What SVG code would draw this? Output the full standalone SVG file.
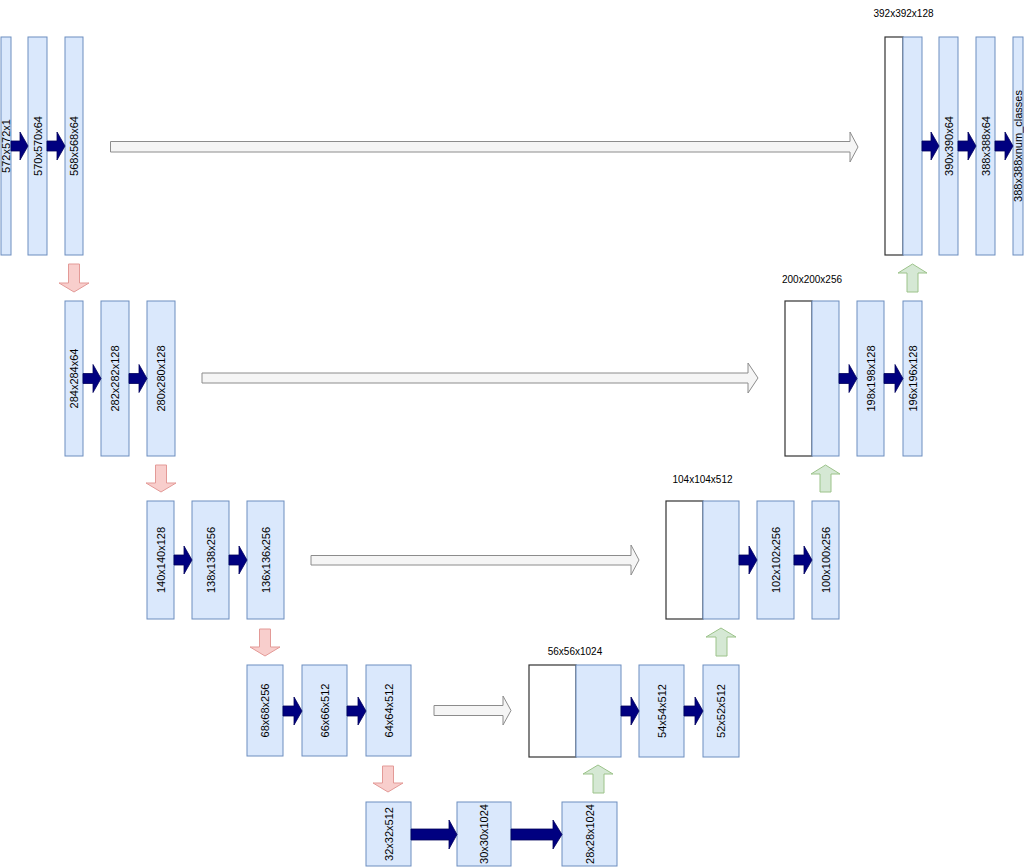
<svg xmlns="http://www.w3.org/2000/svg" width="1024" height="868" viewBox="0 0 1024 868">
<style>
.bar{fill:#dae8fc;stroke:#6c8ebf;stroke-width:1}
.wht{fill:#ffffff;stroke:#333333;stroke-width:1.2}
.lbl{font-family:"Liberation Sans",Arial,sans-serif;font-size:11px;fill:#000;text-anchor:middle;dominant-baseline:central}
.top{font-family:"Liberation Sans",Arial,sans-serif;font-size:10px;fill:#000;text-anchor:middle}
.conv{fill:#000080;stroke:#00005a;stroke-width:0.8}
.skip{fill:#f5f5f5;stroke:#8c8c8c;stroke-width:1}
.down{fill:#f8cecc;stroke:#e39a97;stroke-width:1}
.up{fill:#d5e8d4;stroke:#9cc38a;stroke-width:1}
</style>
<rect width="1024" height="868" fill="#ffffff"/>

<!-- Row 1 -->
<g id="n_572"><rect class="bar" x="1" y="37" width="10" height="218"/><text class="lbl" transform="translate(6,146) rotate(-90)">572x572x1</text></g>
<g id="n_570"><rect class="bar" x="28" y="37" width="19" height="218"/><text class="lbl" transform="translate(37.5,146) rotate(-90)">570x570x64</text></g>
<g id="n_568"><rect class="bar" x="65" y="37" width="18" height="218"/><text class="lbl" transform="translate(74,146) rotate(-90)">568x568x64</text></g>
<g id="n_392"><text class="top" x="903.5" y="17">392x392x128</text><rect class="wht" x="885" y="37" width="18" height="218"/><rect class="bar" x="903" y="37" width="19" height="218"/></g>
<g id="n_390"><rect class="bar" x="939" y="37" width="19" height="218"/><text class="lbl" transform="translate(948.5,146) rotate(-90)">390x390x64</text></g>
<g id="n_388"><rect class="bar" x="976" y="37" width="19" height="218"/><text class="lbl" transform="translate(985.5,146) rotate(-90)">388x388x64</text></g>
<g id="n_out"><rect class="bar" x="1013" y="37" width="10" height="218"/><text class="lbl" transform="translate(1018,146) rotate(-90)">388x388xnum_classes</text></g>

<!-- Row 2 -->
<g id="n_284"><rect class="bar" x="65" y="301" width="18" height="155"/><text class="lbl" transform="translate(74,378.5) rotate(-90)">284x284x64</text></g>
<g id="n_282"><rect class="bar" x="101" y="301" width="28" height="155"/><text class="lbl" transform="translate(115,378.5) rotate(-90)">282x282x128</text></g>
<g id="n_280"><rect class="bar" x="147" y="301" width="28" height="155"/><text class="lbl" transform="translate(161,378.5) rotate(-90)">280x280x128</text></g>
<g id="n_200"><text class="top" x="812" y="283">200x200x256</text><rect class="wht" x="785" y="301" width="27" height="155"/><rect class="bar" x="812" y="301" width="27" height="155"/></g>
<g id="n_198"><rect class="bar" x="857" y="301" width="27" height="155"/><text class="lbl" transform="translate(870.5,378.5) rotate(-90)">198x198x128</text></g>
<g id="n_196"><rect class="bar" x="903" y="301" width="19" height="155"/><text class="lbl" transform="translate(912.5,378.5) rotate(-90)">196x196x128</text></g>

<!-- Row 3 -->
<g id="n_140"><rect class="bar" x="147" y="501" width="27" height="118"/><text class="lbl" transform="translate(160.5,560) rotate(-90)">140x140x128</text></g>
<g id="n_138"><rect class="bar" x="192" y="501" width="37" height="118"/><text class="lbl" transform="translate(210.5,560) rotate(-90)">138x138x256</text></g>
<g id="n_136"><rect class="bar" x="247" y="501" width="37" height="118"/><text class="lbl" transform="translate(265.5,560) rotate(-90)">136x136x256</text></g>
<g id="n_104"><text class="top" x="702.5" y="483">104x104x512</text><rect class="wht" x="666" y="501" width="37" height="118"/><rect class="bar" x="703" y="501" width="36" height="118"/></g>
<g id="n_102"><rect class="bar" x="757" y="501" width="37" height="118"/><text class="lbl" transform="translate(775.5,560) rotate(-90)">102x102x256</text></g>
<g id="n_100"><rect class="bar" x="812" y="501" width="27" height="118"/><text class="lbl" transform="translate(825.5,560) rotate(-90)">100x100x256</text></g>

<!-- Row 4 -->
<g id="n_68"><rect class="bar" x="247" y="665" width="36" height="91"/><text class="lbl" transform="translate(265,710.5) rotate(-90)">68x68x256</text></g>
<g id="n_66"><rect class="bar" x="302" y="665" width="45" height="91"/><text class="lbl" transform="translate(324.5,710.5) rotate(-90)">66x66x512</text></g>
<g id="n_64"><rect class="bar" x="366" y="665" width="45" height="91"/><text class="lbl" transform="translate(388.5,710.5) rotate(-90)">64x64x512</text></g>
<g id="n_56"><text class="top" x="575" y="655">56x56x1024</text><rect class="wht" x="529" y="665" width="47" height="92"/><rect class="bar" x="576" y="665" width="45" height="92"/></g>
<g id="n_54"><rect class="bar" x="639" y="665" width="45" height="92"/><text class="lbl" transform="translate(661.5,711) rotate(-90)">54x54x512</text></g>
<g id="n_52"><rect class="bar" x="703" y="665" width="36" height="92"/><text class="lbl" transform="translate(721,711) rotate(-90)">52x52x512</text></g>

<!-- Row 5 -->
<g id="n_32"><rect class="bar" x="366" y="802" width="45" height="64"/><text class="lbl" transform="translate(388.5,834) rotate(-90)">32x32x512</text></g>
<g id="n_30"><rect class="bar" x="457" y="802" width="54" height="64"/><text class="lbl" transform="translate(484,834) rotate(-90)">30x30x1024</text></g>
<g id="n_28"><rect class="bar" x="562" y="802" width="55" height="64"/><text class="lbl" transform="translate(589.5,834) rotate(-90)">28x28x1024</text></g>

<g id="connectors">
<!-- conv arrows row1 -->
<polygon class="conv" points="11,141 20,141 20,132 28,146 20,160 20,151 11,151"/>
<polygon class="conv" points="47,141 57,141 57,132 65,146 57,160 57,151 47,151"/>
<polygon class="conv" points="922,141 931,141 931,132 939,146 931,160 931,151 922,151"/>
<polygon class="conv" points="958,141 968,141 968,132 976,146 968,160 968,151 958,151"/>
<polygon class="conv" points="995,141 1005,141 1005,132 1013,146 1005,160 1005,151 995,151"/>
<!-- row2 -->
<polygon class="conv" points="83,373.5 93,373.5 93,364.5 101,378.5 93,392.5 93,383.5 83,383.5"/>
<polygon class="conv" points="129,373.5 139,373.5 139,364.5 147,378.5 139,392.5 139,383.5 129,383.5"/>
<polygon class="conv" points="839,373.5 849,373.5 849,364.5 857,378.5 849,392.5 849,383.5 839,383.5"/>
<polygon class="conv" points="884,373.5 895,373.5 895,364.5 903,378.5 895,392.5 895,383.5 884,383.5"/>
<!-- row3 -->
<polygon class="conv" points="174,555 184,555 184,546 192,560 184,574 184,565 174,565"/>
<polygon class="conv" points="229,555 239,555 239,546 247,560 239,574 239,565 229,565"/>
<polygon class="conv" points="739,555 749,555 749,546 757,560 749,574 749,565 739,565"/>
<polygon class="conv" points="794,555 804,555 804,546 812,560 804,574 804,565 794,565"/>
<!-- row4 -->
<polygon class="conv" points="283,706 294,706 294,697 302,711 294,725 294,716 283,716"/>
<polygon class="conv" points="347,706 358,706 358,697 366,711 358,725 358,716 347,716"/>
<polygon class="conv" points="621,706 631,706 631,697 639,711 631,725 631,716 621,716"/>
<polygon class="conv" points="684,706 695,706 695,697 703,711 695,725 695,716 684,716"/>
<!-- row5 -->
<polygon class="conv" points="411,829 449,829 449,820 457,834.5 449,849 449,840 411,840"/>
<polygon class="conv" points="511,829 553,829 553,820 562,834.5 553,849 553,840 511,840"/>

<!-- skip connections -->
<polygon class="skip" points="110.5,141.5 850,141.5 850,132 858,147 850,162 850,152 110.5,152"/>
<polygon class="skip" points="202,373 748,373 748,363 758,378 748,393 748,383 202,383"/>
<polygon class="skip" points="311,555.5 631,555.5 631,545 639,560 631,575 631,565 311,565"/>
<polygon class="skip" points="434,705.5 503,705.5 503,696 511,710.5 503,725 503,715.5 434,715.5"/>

<!-- down-sampling -->
<polygon class="down" points="68.5,264 79.5,264 79.5,283 89,283 74,292 59,283 68.5,283"/>
<polygon class="down" points="155.5,465 166.5,465 166.5,483 176,483 161,492 146,483 155.5,483"/>
<polygon class="down" points="259.5,629 270.5,629 270.5,647 280,647 265,656 250,647 259.5,647"/>
<polygon class="down" points="382.5,766 393.5,766 393.5,783 403,783 388,792 373,783 382.5,783"/>

<!-- up-sampling -->
<polygon class="up" points="907,292 918,292 918,273 927,273 912.5,264 898,273 907,273"/>
<polygon class="up" points="820,492 831,492 831,474 840,474 825.5,465 811,474 820,474"/>
<polygon class="up" points="716,656 727,656 727,637 736,637 721,628 706,637 716,637"/>
<polygon class="up" points="593,793 604,793 604,774 613,774 598,765 583,774 593,774"/>
</g>
</svg>
